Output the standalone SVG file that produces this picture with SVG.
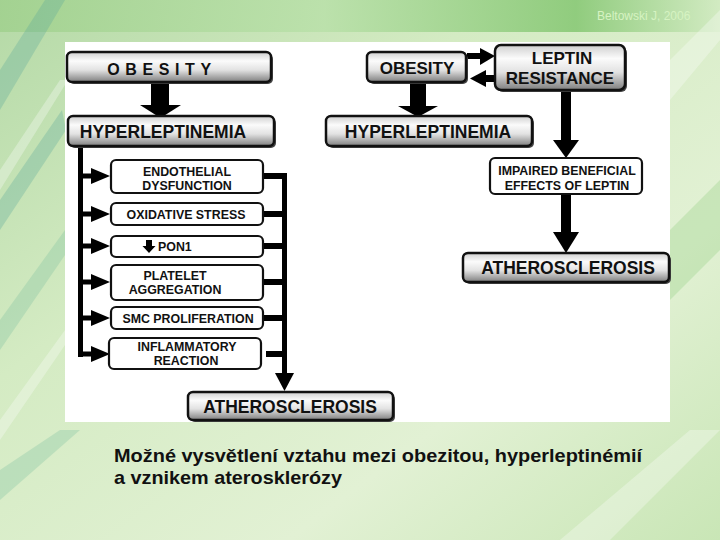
<svg xmlns="http://www.w3.org/2000/svg" width="720" height="540" viewBox="0 0 720 540">
<defs>
<linearGradient id="bg" x1="0" y1="0" x2="1" y2="1">
<stop offset="0" stop-color="#b4d9a6"/>
<stop offset="0.35" stop-color="#d4ebc3"/>
<stop offset="0.7" stop-color="#e2f1d4"/>
<stop offset="1" stop-color="#c9e6b6"/>
</linearGradient>
<linearGradient id="topband" x1="0" y1="0" x2="1" y2="0">
<stop offset="0" stop-color="#9fd08c"/>
<stop offset="0.45" stop-color="#b8e0a8"/>
<stop offset="0.8" stop-color="#7fc46c"/>
<stop offset="1" stop-color="#d0eac0"/>
</linearGradient>
<linearGradient id="g" x1="0" y1="0" x2="0" y2="1">
<stop offset="0" stop-color="#cfcfcf"/>
<stop offset="0.3" stop-color="#fbfbfb"/>
<stop offset="0.6" stop-color="#e2e2e2"/>
<stop offset="1" stop-color="#7e7e7e"/>
</linearGradient>
<style>
.gbox{fill:url(#g);stroke:#111;stroke-width:2.5}
.wbox{fill:#fff;stroke:#111;stroke-width:2.2}
.sh{fill:#444}
.t{font-family:"Liberation Sans",Arial,sans-serif;font-weight:bold;fill:#111;text-anchor:middle}
.ts{font-family:"Liberation Sans",Arial,sans-serif;font-weight:bold;fill:#111;text-anchor:start}
.big{font-size:17.5px}
.med{font-size:17px}
.sm{font-size:12.4px}
.cap{font-family:"Liberation Sans",Arial,sans-serif;font-weight:bold;font-size:19px;fill:#111}
.ar{fill:#000}
</style>
</defs>

<!-- background -->
<rect x="0" y="0" width="720" height="540" fill="url(#bg)"/>
<rect x="0" y="0" width="720" height="32" fill="url(#topband)" opacity="0.8"/>
<g opacity="0.3">
<polygon points="0,70 45,0 65,0 0,110" fill="#5aa89a"/>
<polygon points="0,170 60,80 68,80 0,190" fill="#ffffff"/>
<polygon points="0,200 62,110 66,130 0,230" fill="#5aa89a"/>
<polygon points="0,320 65,230 65,255 0,350" fill="#7cc0a0"/>
<polygon points="0,420 65,330 65,345 0,440" fill="#ffffff"/>
<polygon points="670,60 720,10 720,40 670,100" fill="#ffffff"/>
<polygon points="670,230 720,180 720,250 670,300" fill="#8fcf7e"/>
<polygon points="0,470 60,430 80,430 0,500" fill="#7cc0a0"/>
<polygon points="560,540 690,430 720,430 610,540" fill="#ffffff"/>
</g>
<text x="597" y="20" font-family="Liberation Sans,Arial,sans-serif" font-size="12" fill="#d6f3c2">Beltowski J, 2006</text>

<!-- white panel -->
<rect x="65" y="42" width="605" height="380" fill="#ffffff"/>

<!-- connectors -->
<g id="connectors">
<rect class="ar" x="151" y="82" width="18" height="24"/>
<polygon class="ar" points="140,105 181,105 160.5,118"/>
<rect class="ar" x="78" y="146" width="5" height="211"/>
<rect class="ar" x="78" y="173.5" width="14" height="5"/>
<polygon class="ar" points="91,168 110,176 91,184"/>
<rect class="ar" x="78" y="211.5" width="14" height="5"/>
<polygon class="ar" points="91,206 110,214 91,222"/>
<rect class="ar" x="78" y="243.5" width="14" height="5"/>
<polygon class="ar" points="91,238 110,246 91,254"/>
<rect class="ar" x="78" y="279.5" width="14" height="5"/>
<polygon class="ar" points="91,274 110,282 91,290"/>
<rect class="ar" x="78" y="315.5" width="14" height="5"/>
<polygon class="ar" points="91,310 110,318 91,326"/>
<rect class="ar" x="78" y="351.5" width="14" height="5"/>
<polygon class="ar" points="91,346 110,354 91,362"/>
<rect class="ar" x="264" y="173" width="23" height="6"/>
<rect class="ar" x="264" y="211" width="23" height="6"/>
<rect class="ar" x="264" y="243" width="23" height="6"/>
<rect class="ar" x="264" y="279" width="23" height="6"/>
<rect class="ar" x="264" y="315" width="23" height="6"/>
<rect class="ar" x="266" y="351" width="18" height="6"/>
<rect class="ar" x="282" y="173" width="5" height="202"/>
<polygon class="ar" points="275,373 294,373 284.5,391"/>
<rect class="ar" x="410" y="83" width="16" height="24"/>
<polygon class="ar" points="398,106 438,106 418,117"/>
<rect class="ar" x="467" y="53" width="14" height="6"/>
<polygon class="ar" points="480,48 495,56 480,65"/>
<polygon class="ar" points="486,70 470,78.5 486,87"/>
<rect class="ar" x="485" y="75" width="11" height="7"/>
<rect class="ar" x="561" y="90" width="10" height="52"/>
<polygon class="ar" points="553,140 579,140 566,158"/>
<rect class="ar" x="561" y="194" width="10" height="40"/>
<polygon class="ar" points="553,232 579,232 566,253"/>
</g>

<!-- left diagram nodes -->
<g id="obesity1">
<rect class="sh" x="69" y="54" width="204" height="30" rx="5"/>
<rect class="gbox" x="67" y="52" width="204" height="30" rx="5"/>
<text class="t" x="162" y="74.5" font-size="16" letter-spacing="5.6">OBESITY</text>
</g>
<g id="hyper1">
<rect class="sh" x="70" y="118" width="206" height="30" rx="5"/>
<rect class="gbox" x="68" y="116" width="206" height="30" rx="5"/>
<text class="t big" x="163" y="138">HYPERLEPTINEMIA</text>
</g>
<g id="endo">
<rect class="wbox" x="111" y="160" width="152" height="33" rx="5"/>
<text class="t sm" x="187" y="176">ENDOTHELIAL</text>
<text class="t sm" x="187" y="190">DYSFUNCTION</text>
</g>
<g id="oxid">
<rect class="wbox" x="111" y="203" width="152" height="22" rx="5"/>
<text class="t sm" x="186" y="219">OXIDATIVE STRESS</text>
</g>
<g id="pon1">
<rect class="wbox" x="111" y="236" width="152" height="21" rx="5"/>
<polygon class="ar" points="146,240 152,240 152,246 155.5,246 149,253 142.5,246 146,246"/>
<text class="ts sm" x="158" y="251">PON1</text>
</g>
<g id="platelet">
<rect class="wbox" x="111" y="265" width="152" height="35" rx="5"/>
<text class="t sm" x="175" y="280">PLATELET</text>
<text class="t sm" x="175" y="294">AGGREGATION</text>
</g>
<g id="smc">
<rect class="wbox" x="111" y="307" width="152" height="22" rx="5"/>
<text class="t sm" x="188" y="323">SMC PROLIFERATION</text>
</g>
<g id="inflam">
<rect class="wbox" x="109" y="338" width="152" height="31" rx="5"/>
<text class="t sm" x="187" y="351">INFLAMMATORY</text>
<text class="t sm" x="186" y="365">REACTION</text>
</g>
<g id="athero1">
<rect class="sh" x="190" y="394" width="205" height="28" rx="5"/>
<rect class="gbox" x="188" y="392" width="205" height="28" rx="5"/>
<text class="t big" x="290" y="413">ATHEROSCLEROSIS</text>
</g>

<!-- right diagram nodes -->
<g id="obesity2">
<rect class="sh" x="369" y="54" width="99" height="30" rx="5"/>
<rect class="gbox" x="367" y="52" width="99" height="30" rx="5"/>
<text class="t med" x="417" y="74">OBESITY</text>
</g>
<g id="leptin">
<rect class="sh" x="497" y="47" width="130" height="45" rx="6"/>
<rect class="gbox" x="495" y="45" width="130" height="45" rx="6"/>
<text class="t med" x="562" y="64">LEPTIN</text>
<text class="t med" x="560" y="84">RESISTANCE</text>
</g>
<g id="hyper2">
<rect class="sh" x="328" y="118" width="206" height="30" rx="5"/>
<rect class="gbox" x="326" y="116" width="206" height="30" rx="5"/>
<text class="t big" x="428" y="138">HYPERLEPTINEMIA</text>
</g>
<g id="impaired">
<rect class="wbox" x="490" y="158" width="152" height="36" rx="5"/>
<text class="t sm" x="567" y="175">IMPAIRED BENEFICIAL</text>
<text class="t sm" x="567" y="190">EFFECTS OF LEPTIN</text>
</g>
<g id="athero2">
<rect class="sh" x="465" y="255" width="206" height="29" rx="5"/>
<rect class="gbox" x="463" y="253" width="206" height="29" rx="5"/>
<text class="t big" x="568" y="274">ATHEROSCLEROSIS</text>
</g>

<!-- caption -->
<text class="cap" x="114" y="462" textLength="528" lengthAdjust="spacingAndGlyphs">Možné vysvětlení vztahu mezi obezitou, hyperleptinémií</text>
<text class="cap" x="114" y="484" textLength="228" lengthAdjust="spacingAndGlyphs">a vznikem aterosklerózy</text>
</svg>
